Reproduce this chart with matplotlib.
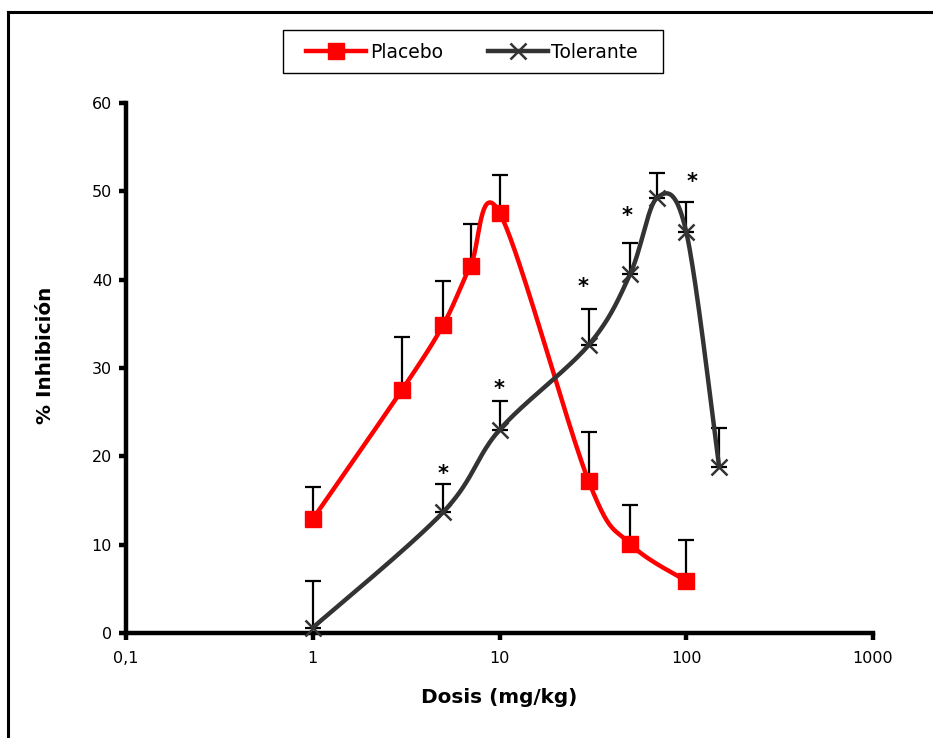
import numpy as np
import matplotlib
matplotlib.use("Agg")
import matplotlib.pyplot as plt
from matplotlib.lines import Line2D
from matplotlib.patches import Rectangle
from matplotlib.ticker import FixedLocator, NullLocator

plt.rcParams['font.family'] = ['DejaVu Sans']

# Dose-response data
placebo_dose = [1, 3, 5, 7, 10, 30, 50, 100]
placebo_mean = [12.9, 27.5, 34.9, 41.6, 47.6, 17.2, 10.1, 5.9]
placebo_err = [3.6, 6.0, 5.0, 4.7, 4.3, 5.6, 4.4, 4.6]

tolerante_dose = [1, 5, 10, 30, 50, 70, 100, 150]
tolerante_mean = [0.6, 13.7, 23.0, 32.6, 40.6, 49.3, 45.4, 18.8]
tolerante_err = [5.3, 3.2, 3.3, 4.1, 3.5, 2.8, 3.4, 4.4]

# significance marks (dose, height)
star_dose = [5, 10, 28, 48, 107]
star_y = [18.0, 27.6, 39.2, 47.2, 51.0]

x_ticks = [0.1, 1, 10, 100, 1000]
x_ticklabels = ["0,1", "1", "10", "100", "1000"]
y_ticks = [0, 10, 20, 30, 40, 50, 60]

W, H = 933, 738
fig = plt.figure(figsize=(W / 100, H / 100), dpi=100)
ax = fig.add_axes([126 / W, 1 - 633 / H, (873 - 126) / W, (633 - 103) / H])
ax.set_xscale("log")
ax.set_xlim(0.1, 1000)
ax.set_ylim(0, 60)

# pixel scale used for the smoothing in screen space
PX_DEC = (873 - 126) / 4.0
PX_Y = (633 - 103) / 60.0


def smooth_curve(xs, ys, n=40):
    """Bezier smoothing through the points (Catmull-Rom style tangents)."""
    px = np.log10(np.asarray(xs, float)) * PX_DEC
    py = np.asarray(ys, float) * PX_Y
    P = np.column_stack([px, py])
    out = [P[0]]
    m = len(P)
    for i in range(m - 1):
        p0 = P[i - 1] if i > 0 else P[i]
        p1 = P[i]
        p2 = P[i + 1]
        p3 = P[i + 2] if i + 2 < m else P[i + 1]
        c1 = p1 + (p2 - p0) / 6.0
        c2 = p2 - (p3 - p1) / 6.0
        t = np.linspace(0, 1, n)[1:, None]
        seg = ((1 - t) ** 3) * p1 + 3 * ((1 - t) ** 2) * t * c1 + 3 * (1 - t) * t ** 2 * c2 + t ** 3 * p2
        out.extend(seg)
    out = np.array(out)
    return 10 ** (out[:, 0] / PX_DEC), out[:, 1] / PX_Y


RED = "#ff0000"
DARK = "#333333"

# error bars (upper only)
ax.errorbar(placebo_dose, placebo_mean, yerr=[np.zeros(len(placebo_err)), placebo_err],
            fmt="none", ecolor="black", elinewidth=1.6, capsize=6, capthick=1.6, zorder=2,
            clip_on=False)
ax.errorbar(tolerante_dose, tolerante_mean, yerr=[np.zeros(len(tolerante_err)), tolerante_err],
            fmt="none", ecolor="black", elinewidth=1.6, capsize=6, capthick=1.6, zorder=2,
            clip_on=False)

sx, sy = smooth_curve(placebo_dose, placebo_mean)
ax.plot(sx, sy, color=RED, lw=3.2, zorder=3, solid_capstyle="round")
ax.plot(placebo_dose, placebo_mean, ls="none", marker="s", ms=11.5, color=RED, mec=RED, zorder=4)

tx, ty = smooth_curve(tolerante_dose, tolerante_mean)
ax.plot(tx, ty, color=DARK, lw=3.2, zorder=3, solid_capstyle="round", clip_on=False)
ax.plot(tolerante_dose, tolerante_mean, ls="none", marker="x", ms=12, mew=1.8, color=DARK,
        zorder=4, clip_on=False)

for d, yv in zip(star_dose, star_y):
    ax.text(d, yv, "*", ha="center", va="center", fontsize=15, fontweight="bold", color="black")

# axes styling
for s in ["top", "right"]:
    ax.spines[s].set_visible(False)
for s in ["left", "bottom"]:
    ax.spines[s].set_linewidth(3.2)
    ax.spines[s].set_color("black")
ax.xaxis.set_major_locator(FixedLocator(x_ticks))
ax.xaxis.set_minor_locator(NullLocator())
ax.set_xticklabels(x_ticklabels)
ax.set_yticks(y_ticks)
ax.tick_params(axis="both", which="major", length=5, width=3.2, direction="out",
               labelsize=11.5, colors="black", pad=8)
ax.tick_params(axis="y", pad=5)

ax.set_ylabel("% Inhibición", fontsize=14.4, fontweight="bold")
ax.yaxis.set_label_coords((55 - 126) / 747, (633 - 355) / 530)
ax.set_xlabel("Dosis (mg/kg)", fontsize=14.4, fontweight="bold", labelpad=16)

# legend with a hand-sized frame
handles = [
    Line2D([], [], color=RED, lw=3.2, marker="s", ms=11.5),
    Line2D([], [], color=DARK, lw=3.2, marker="x", ms=12, mew=1.8),
]
leg = fig.legend(handles, ["Placebo", "Tolerante"], loc="center",
                 bbox_to_anchor=(472 / W, 1 - 52 / H), ncol=2, fontsize=13.5,
                 frameon=False, handlelength=3.2, handletextpad=0.2, columnspacing=2.4)
fig.add_artist(Rectangle((283 / W, 1 - 73 / H), (663 - 283) / W, (73 - 30) / H,
                         transform=fig.transFigure, fill=False, edgecolor="black", lw=1.0))

# figure frame lines (top and left)
fig.add_artist(Line2D([8 / W, 8 / W], [0, 1 - 12 / H], transform=fig.transFigure, color="black", lw=2.2))
fig.add_artist(Line2D([8 / W, 1], [1 - 12 / H, 1 - 12 / H], transform=fig.transFigure, color="black", lw=2.2))

fig.savefig("out.png", dpi=100, facecolor="white")
